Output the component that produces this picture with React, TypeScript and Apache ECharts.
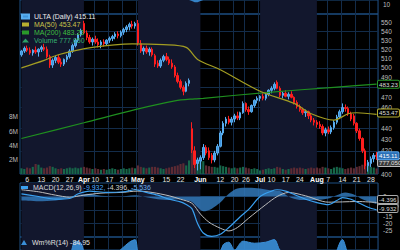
import React, { useEffect, useRef } from 'react';
import * as echarts from 'echarts';

// ---------- categories (trading days, 2023) ----------
const YEAR = '2023';
const marDays = [2, 3, 6, 7, 8, 9, 10, 13, 14, 15, 16, 17, 20, 21, 22, 23, 24, 27, 28, 29, 30, 31];
const aprDays = [3, 4, 5, 6, 10, 11, 12, 13, 14, 17, 18, 19, 20, 21, 24, 25, 26, 27, 28];
const mayDays = [1, 2, 3, 4, 5, 8, 9, 10, 11, 12, 15, 16, 17, 18, 19, 22, 23, 24, 25, 26, 30, 31];
const junDays = [1, 2, 5, 6, 7, 8, 9, 12, 13, 14, 15, 16, 20, 21, 22, 23, 26, 27, 28, 29, 30];
const julDays = [3, 5, 6, 7, 10, 11, 12, 13, 14, 17, 18, 19, 20, 21, 24, 25, 26, 27, 28, 31];
const augDays = [1, 2, 3, 4, 7, 8, 9, 10, 11, 14, 15, 16, 17, 18, 21, 22, 23, 24, 25, 28, 29, 30];
const months: [string, number[]][] = [['03', marDays], ['04', aprDays], ['05', mayDays], ['06', junDays], ['07', julDays], ['08', augDays]];
const dates: string[] = months.flatMap(([m, ds]) => ds.map((d) => `${YEAR}-${m}-${String(d).padStart(2, '0')}`));

// x tick labels
const tickDates = ['2023-03-06', '2023-03-13', '2023-03-20', '2023-03-27', '2023-04-03', '2023-04-10', '2023-04-17', '2023-04-24',
  '2023-05-01', '2023-05-08', '2023-05-15', '2023-05-22', '2023-06-01', '2023-06-12', '2023-06-20', '2023-06-26',
  '2023-07-03', '2023-07-10', '2023-07-17', '2023-07-24', '2023-08-01', '2023-08-07', '2023-08-14', '2023-08-21', '2023-08-28'];
const monthTickNames: Record<string, string> = { '2023-04-03': 'Apr', '2023-05-01': 'May', '2023-06-01': 'Jun', '2023-07-03': 'Jul', '2023-08-01': 'Aug' };
const navyBands: [string, string][] = [['2023-03-02', '2023-04-03'], ['2023-05-01', '2023-06-01'], ['2023-07-03', '2023-08-01']];

// ---------- price (OHLC) ----------
const opens = [514, 518, 521, 519, 516, 519, 517, 520, 522, 520, 512, 503, 508, 511, 506, 504, 509, 512, 518, 524, 530, 536,
  549, 538, 533, 528, 531, 528, 525, 528, 526, 530, 532, 534, 537, 535, 539, 542, 545, 548, 546,
  549, 526, 518, 521, 517, 520, 513, 505, 502, 508, 512, 509, 505, 501, 492, 486, 480, 476, 484, 440, 420, 409,
  411, 414, 423, 420, 416, 412, 418, 424, 436, 445, 449, 446, 449, 452, 450, 455, 464, 458, 456, 462, 467,
  469, 471, 469, 473, 477, 479, 485, 479, 472, 474, 471, 473, 470, 465, 461, 458, 455, 456, 452, 448,
  446, 444, 442, 436, 439, 437, 441, 446, 451, 456, 460, 459, 454, 452, 445, 438, 431, 420, 407, 409, 413, 416];
const highs = [519, 523, 524, 522, 520, 523, 521, 524, 526, 523, 514, 510, 513, 514, 510, 510, 514, 520, 526, 532, 538, 543,
  552, 541, 536, 533, 535, 532, 530, 531, 531, 534, 536, 539, 540, 541, 544, 547, 550, 552, 551,
  553, 530, 523, 524, 522, 522, 515, 508, 510, 514, 516, 512, 509, 503, 495, 488, 482, 486, 489, 446, 424, 414,
  416, 426, 425, 423, 418, 420, 426, 438, 447, 451, 452, 451, 454, 456, 456, 466, 465, 461, 463, 468, 471,
  472, 474, 475, 478, 481, 485, 487, 481, 476, 477, 475, 476, 471, 467, 463, 460, 458, 457, 454, 450,
  448, 447, 444, 441, 442, 443, 448, 453, 458, 464, 463, 461, 456, 454, 446, 440, 432, 422, 412, 415, 418, 419];
const lows = [512, 516, 517, 514, 513, 515, 512, 517, 518, 510, 500, 500, 505, 504, 501, 502, 506, 510, 516, 522, 528, 534,
  537, 530, 526, 524, 526, 522, 521, 523, 524, 527, 529, 531, 532, 533, 536, 539, 541, 543, 543,
  524, 516, 514, 515, 513, 512, 501, 500, 500, 506, 507, 503, 499, 490, 484, 478, 472, 475, 481, 418, 405, 403,
  404, 412, 416, 412, 409, 410, 416, 423, 434, 442, 444, 443, 446, 448, 448, 454, 456, 453, 455, 460, 464,
  466, 467, 467, 471, 474, 477, 478, 470, 469, 470, 468, 469, 463, 459, 456, 453, 451, 449, 446, 443,
  441, 440, 434, 433, 435, 435, 439, 444, 449, 454, 456, 452, 447, 443, 436, 429, 418, 404, 402, 406, 410, 412];
const closes = [518, 521, 519, 516, 519, 517, 520, 522, 520, 512, 503, 508, 511, 506, 504, 509, 512, 518, 524, 530, 536, 541,
  538, 533, 528, 531, 528, 525, 528, 526, 530, 532, 534, 537, 535, 539, 542, 545, 548, 546, 549,
  527, 518, 521, 517, 520, 514, 504, 502, 508, 512, 509, 505, 501, 492, 486, 480, 476, 484, 487, 421, 408, 412,
  414, 423, 418, 414, 412, 418, 424, 436, 445, 449, 446, 449, 452, 450, 455, 464, 458, 456, 462, 467, 469,
  471, 469, 473, 477, 479, 483, 479, 472, 474, 471, 473, 470, 465, 461, 458, 455, 456, 452, 448, 446,
  444, 442, 436, 439, 437, 441, 446, 451, 456, 460, 459, 454, 449, 445, 438, 431, 420, 407, 410, 413, 416, 415.11];

// ---------- volume (millions of shares) ----------
const volumeM = [0.8, 0.7, 0.9, 0.8, 1.0, 1.4, 1.3, 0.9, 0.8, 0.9, 1.1, 1.0, 0.8, 0.7, 0.8, 0.7, 0.8, 0.9, 0.8, 0.9, 0.8, 0.9,
  1.0, 0.9, 0.8, 0.7, 0.8, 0.7, 0.6, 0.7, 0.6, 0.7, 0.8, 0.7, 0.6, 0.7, 0.8, 0.7, 0.8, 0.9, 0.8,
  1.2, 1.0, 0.9, 0.8, 0.9, 1.0, 1.0, 0.9, 0.8, 0.7, 0.8, 0.9, 1.0, 1.1, 1.2, 1.4, 1.5, 1.2, 1.9, 6.2, 2.9, 2.0,
  2.0, 1.8, 1.2, 1.1, 1.0, 1.0, 0.9, 1.2, 1.1, 1.0, 0.9, 0.8, 0.9, 0.8, 0.9, 1.0, 0.9, 0.8, 0.7, 0.8, 0.7,
  0.5, 0.6, 0.7, 0.8, 0.7, 0.8, 1.0, 0.9, 0.7, 0.6, 0.7, 0.8, 0.9, 0.8, 0.9, 0.8, 0.7, 0.8, 0.9, 0.8,
  0.9, 0.8, 1.0, 0.9, 0.8, 0.7, 0.9, 1.0, 0.9, 0.8, 0.7, 0.8, 0.9, 0.8, 1.0, 1.1, 1.3, 1.5, 1.2, 1.0, 0.9, 0.77705];

// ---------- moving averages (read at knots: day index, value) ----------
const ma50Idx = [0, 8, 13, 25, 39, 50, 58, 62, 70, 84, 96, 102, 110, 115, 118, 125];
const ma50Val = [500, 508, 514, 522, 526, 525, 522, 509, 498, 476, 464, 454, 448, 454, 455, 453.47];
const ma200Idx = [0, 22, 40, 54, 61, 64, 87, 110, 125];
const ma200Val = [431, 445.5, 458, 466.5, 468.5, 469, 475, 480, 483.23];

// ---------- MACD(12,26,9) ----------
const macdIdx = [0, 6, 12, 17, 20, 24, 30, 36, 40, 43, 48, 52, 56, 58, 60, 62, 64, 67, 70, 73, 77, 80, 84, 88, 90, 93, 96, 100, 104, 108, 111, 113, 116, 119, 122, 125];
const macdVal = [2, 0, -2, -1.5, 2, 4, 3, 3.5, 5, 3.5, 1, -2, -4, -6, -9, -20, -27, -29.5, -28, -23, -15, -9.5, 0, 4, 5, 4, 1.5, -2, -4.5, -6, -3, -0.8, -2, -5, -8, -9.932];
const signalIdx = [0, 6, 12, 17, 22, 28, 35, 41, 46, 52, 56, 60, 63, 66, 70, 73, 76, 80, 86, 90, 94, 100, 108, 113, 118, 125];
const signalVal = [5, 3.5, 1, -0.5, 1, 2.5, 3, 4, 3, 0.5, -2, -5, -13, -19, -23.5, -25.5, -23, -16, -6, 0, 3, 0.5, -4.2, -4, -3.7, -4.396];
const histIdx = [0, 6, 12, 17, 20, 24, 28, 34, 40, 44, 48, 52, 56, 58, 60, 62, 64, 67, 70, 73, 76, 80, 84, 88, 91, 94, 98, 104, 108, 111, 114, 117, 120, 125];
const histVal = [-3, -3.5, -3, -1, 1, 2, 0.5, 0, 1, -0.5, -2, -2.5, -2, -3, -4, -8, -11, -9, -4.5, 2, 6, 6.5, 6, 4.5, 4, 0, -2.5, -2.5, -1.5, 1, 3, 1.5, -2, -5.536];

// ---------- Williams %R(14) ----------
const wmIdx = [0, 5, 10, 14, 17, 19, 21, 23, 28, 33, 38, 40, 42, 48, 52, 57, 61, 64, 68, 71, 73, 75, 78, 82, 86, 89, 91, 95, 100, 106, 109, 113, 115, 119, 121, 125];
const wmVal = [-40, -30, -80, -75, -40, -8, -12, -45, -70, -35, -10, -5, -60, -80, -70, -95, -98, -75, -60, -15, -10, -25, -8, -12, -10, -5, -25, -40, -80, -95, -60, -5, -35, -85, -98, -84.95];

// ---------- upper indicator strip (partly visible) ----------
const topIdx = [0, 59, 60, 61, 62, 63, 64, 125];
const topVal = [15, 15, 13.8, 12.5, 12.7, 14, 15, 15];

// ---------- axis ticks ----------
const priceLabelTicks = [400, 420, 430, 440, 460, 470, 490, 500, 510, 520, 530, 540, 550];
const priceGridTicks = [420, 440, 460, 480, 500, 520, 540];
const volumeTicksM = [2, 4, 6, 8];
const macdLabelTicks = [5, 0, -15, -20, -25, -30];
const macdGridTicks = [0, -10, -20];
const topStripTicks = [10];

const FONT = "'Liberation Sans', Arial, sans-serif";
const GRID_LINE = '#132c4a';
const BORDER = '#1c4f82';
const NAVY = '#12172d';
const UP = '#3f95dc';
const DOWN = '#ff1e1e';

const last = <T,>(a: T[]) => a[a.length - 1];
const knots = (idx: number[], val: number[], f: (v: number) => number = (v) => v) => idx.map((i, k) => [i, f(val[k])]);

function tag(value: number, text: string, bg: string, border: string, color: string, offset: number[] = [0, 0]) {
  return {
    silent: true,
    symbol: 'none',
    lineStyle: { color: 'rgba(0,0,0,0)', width: 0 },
    label: {
      show: true, position: 'end', distance: 0, formatter: text, offset,
      backgroundColor: bg, borderColor: border, borderWidth: 1, borderRadius: 1,
      padding: [1, 1, 0, 1], fontSize: 6.2, color, fontFamily: FONT,
    },
    data: [{ yAxis: value }],
  };
}

function bandSeries(xi: number, yi: number) {
  return {
    type: 'line', xAxisIndex: xi, yAxisIndex: yi, z: 0, silent: true, showSymbol: false,
    data: dates.map(() => null),
    markArea: { silent: true, itemStyle: { color: NAVY }, data: navyBands.map(([a, b]) => [{ xAxis: a }, { xAxis: b }]) },
  };
}

function buildOption() {
  const LN = Math.log;
  const tickSet = new Set(tickDates);
  const candle = dates.map((_, i) => [LN(opens[i]), LN(closes[i]), LN(lows[i]), LN(highs[i])]);
  const vol = dates.map((_, i) => ({
    value: volumeM[i] * 1e6,
    itemStyle: { color: closes[i] >= opens[i] ? '#17674a' : '#5c2a33' },
  }));
  const lastClose = last(closes);
  const lastVol = Math.round(last(volumeM) * 1e6);
  const legendText: Record<string, string> = {
    'ULTA (Daily)': `ULTA (Daily) ${lastClose.toFixed(2)}`,
    'MA(50)': `MA(50) ${last(ma50Val).toFixed(2)}`,
    'MA(200)': `MA(200) ${last(ma200Val).toFixed(2)}`,
    'Volume': `Volume ${lastVol.toLocaleString('en-US')}`,
  };

  const xAxis = [0, 1, 2, 3].map((g) => ({
    type: 'category', gridIndex: g, data: dates, boundaryGap: true, z: 1,
    axisLine: { show: false },
    axisTick: { show: false, alignWithLabel: true, interval: (_i: number, v: string) => tickSet.has(v) },
    axisLabel: g === 1 ? {
      show: true, interval: (_i: number, v: string) => tickSet.has(v), margin: 2, fontSize: 7, color: '#e6e6e6', fontFamily: FONT,
      formatter: (v: string) => (monthTickNames[v] ? `{m|${monthTickNames[v]}}` : String(Number(v.slice(8)))),
      rich: { m: { fontWeight: 'bold', fontSize: 7, color: '#ffffff', fontFamily: FONT } },
    } : { show: false },
    splitLine: { show: true, interval: (_i: number, v: string) => tickSet.has(v), lineStyle: { color: GRID_LINE, width: 1 } },
  }));

  const axisText = { fontSize: 6.5, color: '#bdbdbd', fontFamily: FONT };

  const yAxis = [
    { type: 'value', gridIndex: 0, position: 'right', min: 0, max: 15, z: 1, axisLine: { show: false },
      axisTick: { show: false }, splitLine: { show: false },
      axisLabel: { ...axisText, margin: 5, customValues: topStripTicks } },
    { type: 'value', gridIndex: 1, position: 'right', min: LN(400), max: LN(560), z: 1, axisLine: { show: false },
      axisTick: { show: false, customValues: priceGridTicks.map(LN) },
      axisLabel: { ...axisText, margin: 3, customValues: priceLabelTicks.map(LN), formatter: (v: number) => String(Math.round(Math.exp(v))) },
      splitLine: { show: true, lineStyle: { color: GRID_LINE } } },
    { type: 'value', gridIndex: 1, position: 'left', min: 0, max: 22.4e6, z: 1, axisLine: { show: false },
      axisTick: { show: false }, splitLine: { show: false },
      axisLabel: { ...axisText, margin: 2, customValues: volumeTicksM.map((v) => v * 1e6), formatter: (v: number) => `${v / 1e6}M` } },
    { type: 'value', gridIndex: 2, position: 'right', min: -30, max: 10, z: 1, axisLine: { show: false },
      axisTick: { show: false, customValues: macdGridTicks },
      axisLabel: { ...axisText, margin: 5, customValues: macdLabelTicks },
      splitLine: { show: true, lineStyle: { color: GRID_LINE } } },
    { type: 'value', gridIndex: 3, position: 'right', min: -25, max: 0, z: 1, axisLine: { show: false },
      axisTick: { show: false }, splitLine: { show: false }, axisLabel: { show: false } },
  ];

  const gridBase = { left: 20, right: 22, show: true, borderColor: BORDER, borderWidth: 1, backgroundColor: 'transparent' };

  return {
    backgroundColor: '#000',
    animation: false,
    textStyle: { fontFamily: FONT },
    grid: [
      { ...gridBase, top: 0, height: 14 },
      { ...gridBase, top: 14, height: 160 },
      { ...gridBase, top: 183, height: 54 },
      { ...gridBase, top: 237, height: 13 },
    ],
    xAxis,
    yAxis,
    legend: [
      {
        orient: 'vertical', left: 21, top: 13, itemWidth: 7, itemHeight: 4, itemGap: 1, selectedMode: false,
        padding: 0, textStyle: { fontSize: 7, lineHeight: 6, color: '#e0e0e0', fontFamily: FONT },
        formatter: (n: string) => legendText[n] || n,
        data: [
          { name: 'ULTA (Daily)', icon: 'rect', itemStyle: { color: UP }, textStyle: { color: '#e8e8e8' } },
          { name: 'MA(50)', icon: 'rect', itemStyle: { color: '#b8b030' }, textStyle: { color: '#c9c24a' } },
          { name: 'MA(200)', icon: 'rect', itemStyle: { color: '#2a9a2a' }, textStyle: { color: '#3fbf3f' } },
          { name: 'Volume', icon: 'triangle', itemStyle: { color: '#2ea068' }, textStyle: { color: '#35b070' } },
        ],
      },
      {
        left: 21, top: 184, itemWidth: 7, itemHeight: 3, selectedMode: false, padding: 0,
        textStyle: { fontSize: 7, color: '#dddddd', fontFamily: FONT,
          rich: { t: { fontSize: 7, color: '#dddddd' }, a: { fontSize: 7, color: '#4aa8ff' }, b: { fontSize: 7, color: '#d0d0d0' }, c: { fontSize: 7, color: '#6aaee8' } } },
        formatter: () => `{t|MACD(12,26,9)} {a|${last(macdVal).toFixed(3)},} {b|${last(signalVal).toFixed(3)},} {c|${last(histVal).toFixed(3)}}`,
        data: [{ name: 'MACD(12,26,9)', icon: 'rect', itemStyle: { color: '#3aa0f0' } }],
      },
      {
        left: 21, top: 239, itemWidth: 6, itemHeight: 5, selectedMode: false, padding: 0,
        textStyle: { fontSize: 7, color: '#e0e0e0', fontFamily: FONT },
        formatter: (n: string) => `${n} ${last(wmVal).toFixed(2)}`,
        data: [{ name: 'Wm%R(14)', icon: 'triangle', itemStyle: { color: '#3a8fd8' } }],
      },
    ],
    series: [
      bandSeries(0, 0), bandSeries(1, 1), bandSeries(2, 3), bandSeries(3, 4),
      {
        name: 'Top', type: 'line', xAxisIndex: 0, yAxisIndex: 0, showSymbol: false, silent: true,
        data: knots(topIdx, topVal), lineStyle: { width: 0 },
        areaStyle: { color: '#3a8fd8', opacity: 0.9, origin: 'end' },
      },
      {
        name: 'Volume', type: 'bar', xAxisIndex: 1, yAxisIndex: 2, barWidth: '75%', data: vol, silent: true,
        markLine: tag(lastVol, lastVol.toLocaleString('en-US'), '#3a3a3a', '#bbbbbb', '#e0e0e0', [0, -6]),
      },
      {
        name: 'MA(200)', type: 'line', xAxisIndex: 1, yAxisIndex: 1, showSymbol: false, smooth: 0.3, silent: true,
        data: knots(ma200Idx, ma200Val, LN), lineStyle: { color: '#1f8f1f', width: 1.2 },
        markLine: tag(LN(last(ma200Val)), last(ma200Val).toFixed(2), '#000', '#2a9a2a', '#dddddd'),
      },
      {
        name: 'MA(50)', type: 'line', xAxisIndex: 1, yAxisIndex: 1, showSymbol: false, smooth: 0.3, silent: true,
        data: knots(ma50Idx, ma50Val, LN), lineStyle: { color: '#a39d22', width: 1.2 },
        markLine: tag(LN(last(ma50Val)), last(ma50Val).toFixed(2), '#000', '#b8b030', '#dddddd'),
      },
      {
        name: 'ULTA (Daily)', type: 'candlestick', xAxisIndex: 1, yAxisIndex: 1, barWidth: '70%', data: candle, silent: true,
        itemStyle: { color: UP, color0: DOWN, borderColor: '#59aef0', borderColor0: DOWN, borderWidth: 1 },
        markLine: tag(LN(lastClose), lastClose.toFixed(2), '#2a6fb5', '#5aa8f0', '#ffffff'),
      },
      {
        name: 'Hist', type: 'line', xAxisIndex: 2, yAxisIndex: 3, showSymbol: false, smooth: 0.3, silent: true,
        data: knots(histIdx, histVal), lineStyle: { width: 0 },
        areaStyle: { color: '#3178b8', opacity: 0.85, origin: 0 },
        markLine: tag(last(histVal), last(histVal).toFixed(3), '#000', '#aaaaaa', '#dddddd', [0, 0]),
      },
      {
        name: 'Signal', type: 'line', xAxisIndex: 2, yAxisIndex: 3, showSymbol: false, smooth: 0.3, silent: true,
        data: knots(signalIdx, signalVal), lineStyle: { color: '#bdbdbd', width: 1 },
        markLine: tag(last(signalVal), last(signalVal).toFixed(3), '#000', '#aaaaaa', '#dddddd', [0, -3]),
      },
      {
        name: 'MACD(12,26,9)', type: 'line', xAxisIndex: 2, yAxisIndex: 3, showSymbol: false, smooth: 0.3, silent: true,
        data: knots(macdIdx, macdVal), lineStyle: { color: '#3aa0f0', width: 1.2 },
        markLine: tag(last(macdVal), last(macdVal).toFixed(3), '#000', '#aaaaaa', '#dddddd', [0, -1.5]),
      },
      {
        name: 'Wm%R(14)', type: 'line', xAxisIndex: 3, yAxisIndex: 4, showSymbol: false, smooth: 0.3, silent: true,
        data: knots(wmIdx, wmVal), lineStyle: { color: '#3a8fd8', width: 1 },
        areaStyle: { color: '#3a8fd8', opacity: 0.9, origin: 'start' },
      },
    ],
  };
}

export default function App() {
  const ref = useRef<HTMLDivElement>(null);
  useEffect(() => {
    document.body.style.margin = '0';
    const chart = echarts.init(ref.current as HTMLDivElement, null, { renderer: 'svg' });
    chart.setOption(buildOption() as any);
    return () => chart.dispose();
  }, []);
  return <div ref={ref} style={{ width: 400, height: 250, background: '#000' }} />;
}
